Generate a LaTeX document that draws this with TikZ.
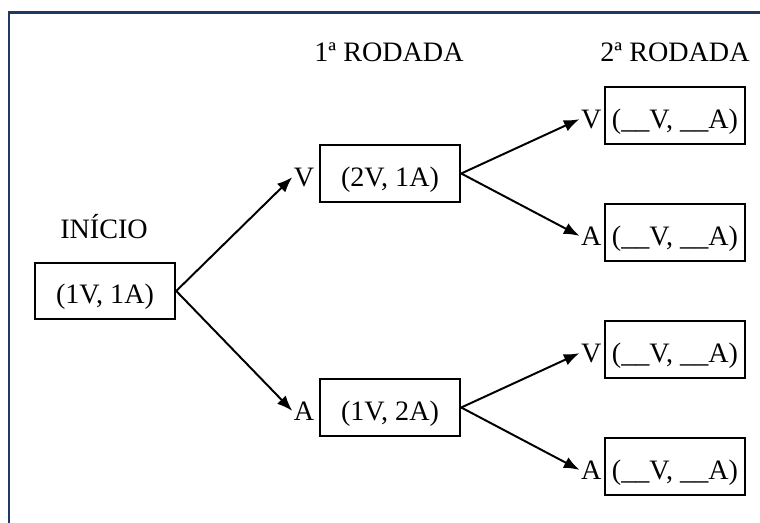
\documentclass[tikz,border=0pt]{standalone}
\usepackage{fontspec}
\setmainfont{Liberation Serif}
\usetikzlibrary{positioning,arrows.meta}
\definecolor{framenavy}{RGB}{31,56,100}

\begin{document}
\begin{tikzpicture}[x=0.025cm,y=-0.025cm,
    estado/.style={draw,line width=1.3pt,minimum width=100pt,minimum height=40pt,
      inner sep=0pt,text height=21pt,text depth=3pt,font=\fontsize{20}{24}\selectfont},
    rotulo/.style={font=\fontsize{20}{24}\selectfont,inner sep=1pt},
    ramo/.style={-{Latex[length=11pt,width=8.5pt]},line width=1.4pt}]
    % Moldura
    \useasboundingbox (0,0) rectangle (760,523);
    \draw[framenavy,line width=1.7pt] (9,523) -- (9,12.5) -- (760,12.5);

    % Titulos
    \node[rotulo,anchor=base] (inicio) at (104,239) {INÍCIO};
    \node[rotulo,anchor=base] (rod1) at (389,62) {1ª RODADA};
    \node[rotulo,anchor=base] (rod2) at (675,62) {2ª RODADA};

    % Estados
    \node[estado] (e0) at (105,291) {(1V, 1A)};
    \node[estado] (v1) at (390,173.5) {(2V, 1A)};
    \node[estado] (a1) at (390,407.5) {(1V, 2A)};
    \node[estado] (vv) at (675,115.5) {(\_\_V, \_\_A)};
    \node[estado] (va) at (675,232.5) {(\_\_V, \_\_A)};
    \node[estado] (av) at (675,349.5) {(\_\_V, \_\_A)};
    \node[estado] (aa) at (675,466.5) {(\_\_V, \_\_A)};

    % Rotulos dos ramos
    \node[rotulo,base left=2pt of v1.base west] (lv1) {V};
    \node[rotulo,base left=2pt of a1.base west] (la1) {A};
    \node[rotulo,base left=0.5pt of vv.base west] (lvv) {V};
    \node[rotulo,base left=0.5pt of va.base west] (lva) {A};
    \node[rotulo,base left=0.5pt of av.base west] (lav) {V};
    \node[rotulo,base left=0.5pt of aa.base west] (laa) {A};

    % Ramos
    \draw[ramo] (e0.east) -- (lv1.west);
    \draw[ramo] (e0.east) -- (la1.west);
    \draw[ramo] (v1.east) -- (lvv.west);
    \draw[ramo] (v1.east) -- (lva.west);
    \draw[ramo] (a1.east) -- (lav.west);
    \draw[ramo] (a1.east) -- (laa.west);
\end{tikzpicture}
\end{document}
